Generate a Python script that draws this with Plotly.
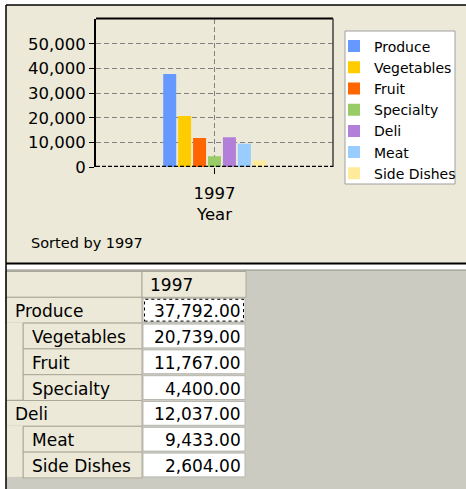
import plotly.graph_objects as go

W, H = 466, 489

# ---------------- data ----------------
year = "1997"
categories = ["Produce", "Vegetables", "Fruit", "Specialty", "Deli", "Meat", "Side Dishes"]
values = [37792, 20739, 11767, 4400, 12037, 9433, 2604]
levels = [0, 1, 1, 1, 0, 1, 1]
colors = ["#6699FF", "#FFCC00", "#FF6600", "#99CC66", "#B380D9", "#99CCFF", "#FFEB99"]
ytick_vals = [0, 10000, 20000, 30000, 40000, 50000]
note_text = "Sorted by 1997"
x_title = "Year"

# ---------------- layout constants (pixels) ----------------
FONT = "DejaVu Sans"
BEIGE = "#ECE9D8"
GRAY = "#CCCBC2"
CELL_LINE = "#ACA899"

PLOT_L, PLOT_R, PLOT_T, PLOT_B = 96, 333, 18.5, 167
TAB_L, TAB_SPLIT, TAB_R = 6, 142, 246
INDENT = 17
TAB_TOP = 271.5
ROW_H = 25.8


def px(x):
    return x / W


def py(y):
    return 1 - y / H


fig = go.Figure()
for name, v, col in zip(categories, values, colors):
    fig.add_trace(go.Bar(x=[year], y=[v], name=name,
                         marker=dict(color=col, line=dict(width=0))))

shapes = []


def rect(x0, y0, x1, y1, fill, line=None, lw=1, layer="below", dash=None):
    d = dict(type="rect", xref="paper", yref="paper",
             x0=px(x0), x1=px(x1), y0=py(y1), y1=py(y0),
             fillcolor=fill, layer=layer,
             line=dict(width=lw if line else 0, color=line or "rgba(0,0,0,0)"))
    if dash:
        d["line"]["dash"] = dash
    shapes.append(d)


def hline(x0, x1, y, color, lw=1, layer="below"):
    shapes.append(dict(type="line", xref="paper", yref="paper",
                       x0=px(x0), x1=px(x1), y0=py(y), y1=py(y),
                       layer=layer, line=dict(color=color, width=lw)))


def vline(x, y0, y1, color, lw=1, layer="below"):
    shapes.append(dict(type="line", xref="paper", yref="paper",
                       x0=px(x), x1=px(x), y0=py(y0), y1=py(y1),
                       layer=layer, line=dict(color=color, width=lw)))


# chart panel
rect(TAB_L, 5, W + 5, 264, BEIGE)
# table panel
rect(TAB_L, 270, W + 5, H + 5, GRAY)
hline(TAB_L, W + 5, 5, "black", 1.5)
hline(TAB_L, W + 5, 263.5, "black", 2)
hline(TAB_L, W + 5, 270, "#8A8A84", 1)

# legend frame
rect(345, 31, 455, 184, "white", "#A0A0A0", 1)

# table header
rect(TAB_L, TAB_TOP, TAB_SPLIT, TAB_TOP + ROW_H, BEIGE, CELL_LINE)
rect(TAB_SPLIT, TAB_TOP, TAB_R, TAB_TOP + ROW_H, BEIGE, CELL_LINE)

annotations = []
annotations.append(dict(x=px(TAB_SPLIT + 6), y=py(TAB_TOP + ROW_H / 2 + 1), xref="paper", yref="paper",
                        text=year, showarrow=False, xanchor="left", yanchor="middle",
                        font=dict(family=FONT, size=17, color="black")))

row_tops = [TAB_TOP + ROW_H * (i + 1) for i in range(len(categories))]
for i, (lab, lev, val) in enumerate(zip(categories, levels, values)):
    y0 = row_tops[i]
    y1 = y0 + ROW_H
    x0 = TAB_L + lev * INDENT
    rect(x0, y0, TAB_SPLIT, y1, BEIGE, CELL_LINE)
    rect(TAB_SPLIT + 1, y0 + 1, TAB_R - 1, y1 - 1, "white", "#B8B8B0")
    annotations.append(dict(x=px(x0 + 7), y=py((y0 + y1) / 2 + 1), xref="paper", yref="paper",
                            text=lab, showarrow=False, xanchor="left", yanchor="middle",
                            font=dict(family=FONT, size=17, color="black")))
    annotations.append(dict(x=px(TAB_R - 3), y=py((y0 + y1) / 2 + 1), xref="paper", yref="paper",
                            text=f"{val:,.2f}", showarrow=False, xanchor="right", yanchor="middle",
                            font=dict(family=FONT, size=17, color="black")))

# indent strips for child groups
i = 0
while i < len(levels):
    if levels[i] == 1:
        j = i
        while j + 1 < len(levels) and levels[j + 1] == 1:
            j += 1
        ys, ye = row_tops[i], row_tops[j] + ROW_H
        rect(TAB_L + 1, ys - 0.5, TAB_L + INDENT, ye - 1, BEIGE)
        vline(TAB_L + INDENT, ys, ye, CELL_LINE)
        i = j + 1
    else:
        i += 1

# focus rectangle on first value cell
rect(TAB_SPLIT + 2.5, row_tops[0] + 2, TAB_R - 2.5, row_tops[0] + ROW_H - 2, "rgba(0,0,0,0)",
     "black", 1, dash="dot")

# outer left border
vline(TAB_L, 5, H + 5, "black", 1.5)

# plot frame
shapes.append(dict(type="line", xref="x domain", yref="y domain", x0=0, x1=1, y0=1, y1=1,
                   layer="above", line=dict(color="black", width=2)))
shapes.append(dict(type="line", xref="x domain", yref="y domain", x0=1, x1=1, y0=0, y1=1,
                   layer="above", line=dict(color="#404040", width=1.5)))
shapes.append(dict(type="line", xref="x domain", yref="y", x0=0, x1=1, y0=0, y1=0,
                   layer="above", line=dict(color="black", width=2.5, dash="4px,2px")))

annotations.append(dict(x=px(29), y=py(243), xref="paper", yref="paper", text=note_text,
                        showarrow=False, xanchor="left", yanchor="middle",
                        font=dict(family=FONT, size=14.5, color="black")))

fig.update_layout(
    width=W, height=H, autosize=False,
    margin=dict(l=0, r=0, t=0, b=0, pad=0, autoexpand=False),
    paper_bgcolor="white", plot_bgcolor="white",
    barmode="group", bargap=0.559, bargroupgap=0.13,
    font=dict(family=FONT, color="black", size=16),
    showlegend=True,
    legend=dict(x=px(334), y=py(30.5), xanchor="left", yanchor="top",
                bgcolor="rgba(0,0,0,0)", borderwidth=0,
                font=dict(family=FONT, size=14, color="black"),
                traceorder="normal", itemwidth=30),
    xaxis=dict(domain=[px(PLOT_L), px(PLOT_R)], type="category", range=[-0.5, 0.5],
               showgrid=True, gridcolor="#808080", gridwidth=1, griddash="5px,3px",
               ticks="outside", ticklen=6, tickcolor="black", tickwidth=1,
               ticklabelstandoff=5, automargin=False,
               showline=False, zeroline=False,
               tickfont=dict(family=FONT, size=16.5, color="black"),
               title=dict(text=x_title, standoff=6, font=dict(family=FONT, size=16.5, color="black"))),
    yaxis=dict(domain=[py(PLOT_B), py(PLOT_T)], range=[0, 60300], tickvals=ytick_vals,
               tickformat=",", showgrid=True, gridcolor="#808080", gridwidth=1, griddash="5px,3px",
               ticks="outside", ticklen=5, tickcolor="black", tickwidth=1, automargin=False,
               showline=True, linecolor="black", linewidth=2, zeroline=False,
               tickfont=dict(family=FONT, size=16.5, color="black")),
    shapes=shapes,
    annotations=annotations,
)

fig.write_html("out.html", config={"displayModeBar": False},
               post_script="document.body.style.margin='0';document.body.style.padding='0';"
                           "document.documentElement.style.overflow='hidden';"
                           "document.body.style.overflow='hidden';")
